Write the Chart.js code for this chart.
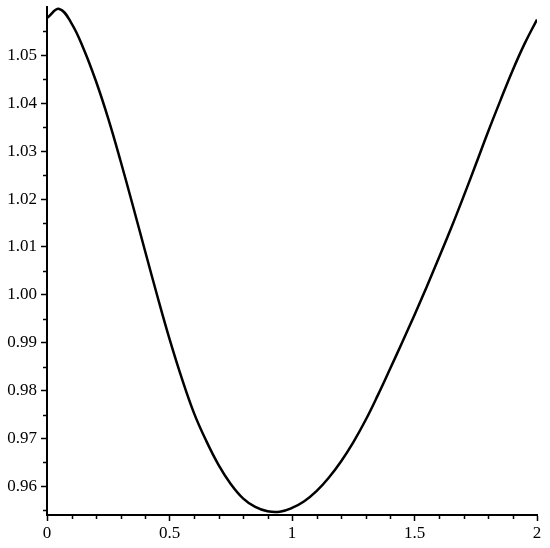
<!DOCTYPE html>
<html>
<head>
<meta charset="utf-8">
<script src="https://cdn.jsdelivr.net/npm/chart.js@4.4.1/dist/chart.umd.min.js"></script>
<style>
  html, body { margin: 0; padding: 0; background: #fff; }
  #wrap { width: 550px; height: 548px; }
</style>
</head>
<body>
<div id="wrap"><canvas id="myChart"></canvas></div>
<script>
const xValues = [
  0, 0.05, 0.1, 0.15, 0.2, 0.25, 0.3, 0.35, 0.4, 0.45,
  0.5, 0.55, 0.6, 0.65, 0.7, 0.75, 0.8, 0.85, 0.9, 0.95,
  1, 1.05, 1.1, 1.15, 1.2, 1.25, 1.3, 1.35, 1.4, 1.45,
  1.5, 1.55, 1.6, 1.65, 1.7, 1.75, 1.8, 1.85, 1.9, 1.95, 2,
];
const yValues = [
  1.0578, 1.0597, 1.0567, 1.0513, 1.0446, 1.0368, 1.028, 1.0187, 1.0092, 0.9998,
  0.9908, 0.9826, 0.9753, 0.9695, 0.9645, 0.9605, 0.9575, 0.9557, 0.9548, 0.9547,
  0.9555, 0.9569, 0.959, 0.9618, 0.9652, 0.9692, 0.9738, 0.979, 0.9845, 0.9901,
  0.9958, 1.0017, 1.0078, 1.014, 1.0205, 1.0272, 1.034, 1.0405, 1.0468, 1.0525, 1.0575,
];

const xMajorTicks = [0, 0.5, 1, 1.5, 2];
const xMinorTicks = [0.1, 0.2, 0.3, 0.4, 0.6, 0.7, 0.8, 0.9, 1.1, 1.2, 1.3, 1.4, 1.6, 1.7, 1.8, 1.9];
const yMajorTicks = [0.96, 0.97, 0.98, 0.99, 1.0, 1.01, 1.02, 1.03, 1.04, 1.05];
const yMinorTicks = [0.955, 0.965, 0.975, 0.985, 0.995, 1.005, 1.015, 1.025, 1.035, 1.045, 1.055];

const ctx = document.getElementById("myChart");
const font = { family: "'Liberation Serif', 'Times New Roman', serif", size: 17 };

// short outward ticks for the minor values
const minorTicks = {
  id: "minorTicks",
  afterDraw(chart) {
    const { ctx: c, chartArea, scales } = chart;
    c.save();
    c.strokeStyle = "#000";
    c.lineWidth = 1.5;
    c.beginPath();
    yMinorTicks.forEach((v) => {
      const y = Math.round(scales.y.getPixelForValue(v)) + 0.5;
      c.moveTo(chartArea.left - 4, y);
      c.lineTo(chartArea.left, y);
    });
    xMinorTicks.forEach((v) => {
      const x = Math.round(scales.x.getPixelForValue(v)) + 0.5;
      c.moveTo(x, chartArea.bottom);
      c.lineTo(x, chartArea.bottom + 4);
    });
    c.stroke();
    c.restore();
  },
};

new Chart(ctx, {
  type: "scatter",
  data: {
    datasets: [
      {
        data: xValues.map((x, i) => ({ x, y: yValues[i] })),
        showLine: true,
        borderColor: "#000",
        borderWidth: 2.5,
        pointRadius: 0,
        tension: 0.4,
      },
    ],
  },
  options: {
    responsive: true,
    maintainAspectRatio: false,
    animation: false,
    layout: { padding: { top: 7, right: 13, left: 0, bottom: 0 } },
    plugins: { legend: { display: false }, tooltip: { enabled: false } },
    scales: {
      x: {
        type: "linear",
        min: 0,
        max: 2,
        afterBuildTicks: (scale) => {
          scale.ticks = xMajorTicks.map((value) => ({ value }));
        },
        afterFit: (scale) => {
          scale.height = 33;
          scale.paddingLeft = 0;
          scale.paddingRight = 0;
        },
        ticks: {
          color: "#000",
          font,
          padding: 2,
          maxRotation: 0,
          callback: (v) => String(v),
        },
        grid: { drawOnChartArea: false, drawTicks: true, tickLength: 6, color: "#000", tickWidth: 1.5 },
        border: { display: true, color: "#000", width: 2 },
      },
      y: {
        type: "linear",
        min: 0.95402,
        max: 1.0601,
        afterBuildTicks: (scale) => {
          scale.ticks = yMajorTicks.map((value) => ({ value }));
        },
        afterFit: (scale) => {
          scale.width = 47;
          scale.paddingTop = 0;
          scale.paddingBottom = 0;
        },
        ticks: {
          color: "#000",
          font,
          padding: 4,
          callback: (v) => v.toFixed(2),
        },
        grid: { drawOnChartArea: false, drawTicks: true, tickLength: 6, color: "#000", tickWidth: 1.5 },
        border: { display: true, color: "#000", width: 2 },
      },
    },
  },
  plugins: [minorTicks],
});
</script>
</body>
</html>
